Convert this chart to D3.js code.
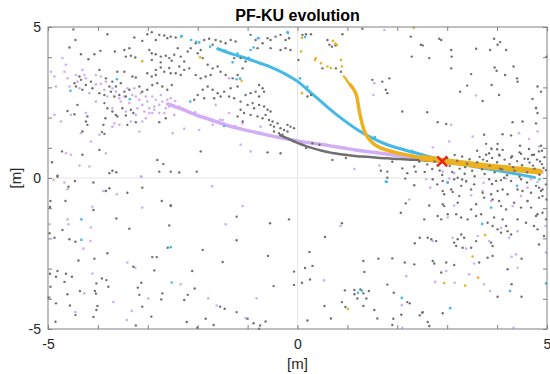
<!DOCTYPE html>
<html>
<head>
<meta charset="utf-8">
<script src="https://cdn.jsdelivr.net/npm/d3@7"></script>
<style>
  body { margin: 0; background: #fff; }
  text { font-family: "Liberation Sans", Arial, Helvetica, sans-serif; }
</style>
</head>
<body>
<div id="chart"></div>
<script>
// DATA (in metres)

var titleText = "PF-KU evolution";
var xLabel = "[m]";
var yLabel = "[m]";
var tickValues = [-5, -4, -3, -2, -1, 0, 1, 2, 3, 4, 5];
var tickLabels = {"-5": "-5", "0": "0", "5": "5"};

var estimate = [2.9, 0.55];

// dense particle trails
var purpleTrail = [[-2.6,2.45],[-2.4,2.33],[-2.2,2.2],[-2.0,2.07],[-1.8,1.96],[-1.6,1.85],[-1.4,1.74],[-1.2,1.65],
  [-1.0,1.57],[-0.8,1.5],[-0.6,1.42],[-0.4,1.35],[-0.2,1.29],[0.0,1.23],[0.3,1.15],[0.6,1.08],[0.9,1.0],
  [1.2,0.92],[1.5,0.85],[1.8,0.79],[2.1,0.73],[2.5,0.65],[3.0,0.55],[3.5,0.46],[4.0,0.37],[4.5,0.28],[4.9,0.21]];
var grayTrail = [[-0.35,1.42],[-0.2,1.31],[-0.1,1.24],[0.0,1.16],[0.1,1.1],[0.2,1.04],[0.3,0.99],[0.4,0.94],
  [0.5,0.9],[0.6,0.86],[0.7,0.83],[0.8,0.8],[0.9,0.78],[1.0,0.76],[1.2,0.72],[1.4,0.7],[1.6,0.67],[1.8,0.65],
  [2.0,0.63],[2.2,0.61],[2.5,0.59],[2.8,0.55]];
var cyanTrail = [[-1.6,4.28],[-1.3,4.1],[-1.0,3.95],[-0.75,3.8],[-0.5,3.65],[-0.25,3.45],[0.0,3.2],[0.3,2.78],
  [0.6,2.35],[0.9,1.95],[1.2,1.6],[1.5,1.32],[1.8,1.1],[2.1,0.95],[2.5,0.77],[3.0,0.56],[3.5,0.39],
  [4.0,0.25],[4.4,0.13],[4.75,0.02]];
var orangeTrail = [[1.05,3.1],[1.12,2.95],[1.18,2.75],[1.21,2.5],[1.24,2.2],[1.28,1.9],[1.32,1.65],[1.38,1.42],
  [1.48,1.2],[1.62,1.03],[1.8,0.92],[2.0,0.83],[2.3,0.73],[2.6,0.64]];
var orangeBand = [[2.5,0.66],[2.8,0.6],[3.1,0.53],[3.4,0.47],[3.8,0.39],[4.2,0.32],[4.5,0.27],[4.85,0.21]];

// scattered particles
var grayPts = [
  [-4.49,4.92],[-3.81,4.76],[-4.45,4.57],[-4.57,4.32],[-3.95,4.21],[-4.34,4.10],[-4.19,3.93],[-4.07,4.10],
  [-3.66,4.19],[-3.47,4.24],[-3.37,4.30],[-3.27,4.65],[-3.11,4.54],[-3.01,4.76],[-2.92,4.83],[-2.84,4.57],
  [-2.77,4.74],[-2.67,4.72],[-2.61,4.63],[-2.54,4.68],[-2.97,4.24],[-2.92,4.13],[-2.84,4.10],[-2.74,4.02],
  [-2.64,4.05],[-2.57,3.97],[-2.52,3.88],[-2.74,3.83],[-2.92,3.91],[-2.84,3.58],[-2.74,3.66],[-2.67,3.52],
  [-2.57,3.64],[-2.54,3.47],[-3.01,3.47],[-2.92,3.36],[-2.84,3.41],[-3.44,4.02],[-3.34,4.05],[-3.25,3.99],
  [-3.31,3.36],[-3.24,3.33],[-3.61,3.52],[-3.47,3.52],[-3.84,3.30],[-3.97,3.58],[-4.37,3.36],[-4.34,3.25],
  [-4.47,3.14],[-4.44,3.03],[-4.14,3.19],[-4.31,2.92],[-4.24,3.08],[-4.11,2.97],[-3.77,3.03],[-3.71,3.19],
  [-3.64,3.03],[-3.54,3.14],[-3.87,2.75],[-3.97,2.81],[-3.74,2.86],[-3.67,2.70],[-3.57,2.75],[-3.47,2.86],
  [-3.37,2.92],[-3.44,2.70],[-3.17,3.03],[-3.11,2.86],[-3.01,2.92],[-2.91,3.08],[-2.81,3.14],[-2.71,3.03],
  [-2.61,2.92],[-2.52,3.08],[-3.87,2.48],[-3.81,2.31],[-3.71,2.20],[-3.51,2.31],[-3.34,2.26],[-4.41,2.42],
  [-4.61,2.22],[-4.47,2.11],[-4.21,2.04],[-4.24,1.87],[-3.85,1.98],[-3.89,1.76],[-3.64,2.09],[-3.61,2.04],
  [-3.44,2.07],[-3.41,1.76],[-3.29,2.15],[-3.24,1.85],[-2.77,1.85],[-2.64,1.98],[-3.92,1.52],[-3.87,1.46],
  [-4.31,1.54],[-4.21,1.76],[-4.72,0.88],[-4.92,0.52],[-4.81,0.08],[-4.31,0.77],[-3.97,0.93],[-3.77,0.16],
  [-3.71,0.24],[-3.63,0.19],[-2.81,0.60],[-2.69,0.46],[-2.54,0.21],[-2.77,0.21],
  [-2.44,4.65],[-2.40,4.30],[-2.47,4.08],[-2.34,4.02],[-2.27,3.86],[-2.20,4.19],[-2.14,4.30],[-2.04,4.46],
  [-2.00,4.13],[-1.94,4.24],[-1.90,3.97],[-1.87,4.57],[-1.77,4.61],[-1.70,4.41],[-1.64,4.57],[-1.54,4.52],
  [-1.44,4.46],[-1.34,4.57],[-1.24,4.52],[-1.80,3.75],[-1.70,3.63],[-1.60,3.69],[-2.17,3.63],[-2.27,3.58],
  [-2.37,3.69],[-2.44,3.47],[-2.34,3.41],[-2.04,3.41],[-1.94,3.30],[-1.84,3.36],[-1.74,3.41],[-1.54,3.52],
  [-1.44,3.41],[-1.30,3.30],[-1.20,3.41],[-1.10,3.63],[-1.04,3.86],[-1.14,3.97],[-1.27,3.97],[-0.94,4.74],
  [-0.84,4.57],[-0.80,4.30],[-0.70,4.46],[-0.60,4.63],[-0.54,4.57],[-0.44,4.68],[-0.34,4.74],[-0.24,4.57],
  [-0.17,4.63],[-0.54,4.30],[-0.34,4.24],[-0.24,4.30],[-0.14,4.24],[-0.77,3.08],[-0.70,2.97],[-0.84,2.86],
  [-0.77,2.70],[-0.67,2.86],[-0.94,2.81],[-1.04,2.75],[-1.20,3.03],[-1.34,2.97],[-1.47,2.86],[-1.60,2.81],
  [-1.70,2.92],[-1.80,3.03],[-1.90,2.92],[-2.00,2.75],[-2.07,2.59],[-1.87,2.64],[-1.67,2.64],[-1.54,2.70],
  [-1.37,2.70],[-1.27,2.64],[-1.14,2.53],[-1.00,2.42],[-0.90,2.48],[-0.87,2.31],[-0.77,2.42],[-0.67,2.37],
  [-0.60,2.26],[-0.54,2.20],[-0.64,2.09],[-0.57,1.92],[-0.50,1.87],[-0.54,1.76],[-0.47,1.70],[-0.40,1.81],
  [-0.34,1.65],[-0.27,1.59],[-0.20,1.54],[-0.37,1.48],[-0.30,1.43],[-0.47,1.54],[-0.20,1.76],[-0.14,1.70],
  [-0.07,1.65],[-0.70,1.98],[-0.80,2.04],[-0.94,2.09],[-1.07,2.15],[-1.14,2.26],[-1.20,2.04],[-1.10,1.87],
  [-1.94,0.88],[-0.60,0.85],[-0.34,0.82],[-2.37,0.18],[-2.02,0.21],[-0.07,1.21],
  [0.10,4.74],[0.17,4.76],[0.27,4.76],[0.60,4.57],[0.64,4.41],[0.69,4.35],[0.76,4.39],[0.90,4.76],
  [1.30,4.94],[2.27,4.68],[2.29,4.02],[2.47,4.41],[0.02,3.91],[0.50,3.63],[0.77,3.63],[0.87,3.52],
  [1.50,3.25],[1.70,3.19],[1.84,3.30],[1.77,2.92],[1.80,2.81],[2.10,2.20],[0.20,2.70],[0.27,2.75],
  [0.17,0.99],[0.30,1.15],[0.44,1.10],[0.70,0.60],[0.97,0.66],[1.67,0.24],[1.80,0.21],[1.90,0.54],
  [2.10,0.32],[2.20,0.16],[2.34,0.38],[2.37,0.21],[2.44,0.54],
  [2.51,4.39],[2.84,4.61],[2.88,4.57],[2.64,3.97],[3.08,4.24],[3.09,4.02],[3.08,3.63],[3.58,4.28],
  [3.86,4.24],[3.94,4.61],[4.01,4.41],[4.06,4.50],[4.18,4.24],[4.99,4.02],[3.95,3.66],[3.99,3.55],
  [4.33,3.69],[4.16,3.41],[4.40,3.30],[4.41,3.19],[3.48,3.44],[3.40,3.06],[3.26,2.86],[3.89,3.08],
  [3.71,2.55],[4.04,2.75],[4.81,3.03],[4.88,2.86],[4.71,2.62],[4.78,2.31],[4.81,2.15],[2.60,2.18],
  [2.81,1.85],[2.98,1.79],[4.31,1.85],[4.51,1.87],[4.78,1.81],[4.11,1.45],[4.28,1.41],[3.74,1.43],
  [4.46,1.07],[4.64,0.96],[4.88,1.07],[3.78,1.13],[4.01,1.13],[3.89,0.96],[3.78,0.77],[3.84,0.82],
  [4.04,0.77],[4.11,0.93],[4.48,0.80],[4.74,0.77],[4.28,0.68],[4.84,0.88],
  [2.6,0.45],[2.7,0.3],[2.75,0.55],[2.85,0.25],[3.0,0.66],[3.05,0.4],[3.1,0.2],[3.2,0.57],[3.25,0.31],
  [3.3,0.71],[3.35,0.14],[3.4,0.47],[3.45,0.62],[3.5,0.24],[3.55,0.06],[3.6,0.52],[3.65,0.7],[3.7,0.29],
  [3.75,0.13],[3.8,0.56],[3.85,0.41],[3.9,0.66],[3.95,0.19],[4.0,0.52],[4.05,0.74],[4.1,0.28],[4.15,0.61],
  [4.2,0.09],[4.25,0.46],[4.3,0.72],[4.35,0.24],[4.4,0.56],[4.45,0.04],[4.5,0.42],[4.55,0.64],[4.6,0.19],
  [4.65,0.51],[4.7,0.76],[4.75,0.31],[4.8,0.61],[4.85,0.11],[4.9,0.46],[4.95,0.69],[4.98,0.26],[2.9,0.1],
  [3.15,0.76],[3.6,0.9],[4.0,0.95],[4.45,0.85],[4.9,0.9],[2.55,0.2],[3.3,-0.05],[3.9,-0.2],[4.6,-0.15],
  [4.32,0.36],[4.72,0.41],[4.86,0.55],[4.06,0.31],[3.72,0.61],[3.36,0.36],[4.93,0.33],[4.62,0.63],
  [2.71,-0.04],[2.80,-0.21],[2.91,-0.10],[3.01,-0.15],[3.14,-0.04],[3.21,0.01],[3.38,-0.10],[3.54,-0.21],
  [3.84,-0.04],[3.98,-0.10],[4.08,-0.07],[4.14,0.01],[4.28,-0.10],[4.48,-0.04],[4.78,-0.26],[4.84,-0.32],
  [4.88,-0.43],[4.91,-0.38],[4.98,-0.21],[2.91,-0.43],[2.94,-0.54],[3.08,-0.38],[3.11,-0.46],[3.28,-0.26],
  [3.48,-0.38],[3.71,-0.49],[3.88,-0.54],[4.01,-0.43],[4.11,-0.38],[4.21,-0.54],[4.41,-0.38],[4.51,-0.43],
  [4.68,-0.49],[4.84,-0.65],[4.91,-0.60],[4.99,-0.71],[2.54,-1.37],[2.64,-0.91],[2.91,-0.87],[2.94,-0.93],
  [3.21,-0.82],[3.24,-0.60],[3.48,-1.04],[3.58,-0.87],[3.74,-0.65],[3.91,-0.71],[4.04,-0.76],[4.08,-0.93],
  [4.18,-1.04],[4.34,-0.82],[4.48,-0.98],[4.61,-0.76],[4.68,-0.98],[4.81,-1.20],[4.78,-1.26],[4.91,-1.15],
  [4.98,-1.37],[2.61,-1.98],[2.81,-1.26],[2.88,-1.37],[3.01,-1.20],[3.18,-1.20],[3.28,-1.31],[3.41,-1.37],
  [3.58,-1.26],[3.68,-1.20],[3.81,-1.48],[3.94,-1.31],[4.11,-1.37],[4.18,-1.59],[4.21,-1.76],[4.28,-1.87],
  [4.41,-1.37],[4.58,-1.48],[4.74,-1.59],[4.81,-1.70],[4.84,-2.20],[4.94,-1.92],[3.91,-1.59],[4.01,-1.70],
  [4.08,-1.81],[2.68,-2.03],[2.78,-2.09],[2.71,-2.75],[2.74,-2.83],[2.98,-2.80],[3.14,-2.88],[3.28,-1.87],
  [3.34,-1.98],[3.14,-2.14],[3.21,-2.03],[3.31,-2.31],[3.18,-2.25],[3.58,-2.09],[3.48,-2.31],[3.88,-2.14],
  [3.91,-2.25],[3.81,-2.64],[3.64,-2.80],[2.88,-3.13],[3.91,-2.58],[4.21,-3.02],[4.49,-2.67],[4.29,-3.52],
  [4.01,-3.93],[4.49,-3.93],[2.51,-4.44],[2.91,-4.48],[2.61,-4.77],[2.64,-4.90],
  [1.80,0.01],[2.16,-0.02],[2.34,-0.24],[2.17,-0.84],[2.07,-1.15],[2.45,-1.98],[2.35,-2.16],[0.89,-1.50],
  [0.55,-1.95],[0.24,-2.45],[0.15,-2.98],[0.30,-2.91],[0.09,-3.47],[0.25,-3.36],[1.32,-2.75],[1.62,-2.67],
  [1.90,-2.66],[2.15,-2.80],[2.34,-2.86],[1.34,-3.11],[1.80,-3.53],[1.93,-3.80],[0.95,-3.72],[1.14,-3.71],
  [1.26,-3.69],[1.32,-3.82],[1.43,-3.74],[1.14,-3.85],[1.20,-3.99],[1.38,-3.99],[0.89,-4.11],[0.96,-4.27],
  [1.32,-4.24],[0.54,-4.24],[1.54,-4.37],[1.60,-4.65],[1.92,-4.66],[2.08,-4.53],[2.20,-4.11],[2.25,-4.15],
  [2.45,-4.55],[2.50,-4.46],[1.90,-4.87],[0.67,-4.65],[0.20,-4.72],
  [-2.54,-0.90],[-1.22,-1.28],[-0.55,-1.50],[-0.17,-1.37],[-1.22,-2.06],[-1.90,-2.38],[-1.50,-2.78],
  [-0.59,-2.58],[-2.11,-3.08],[-0.07,-3.10],[-2.06,-3.66],[-0.48,-3.58],[-0.07,-3.54],[-2.20,-3.87],
  [-2.27,-4.04],[-1.55,-4.26],[-1.46,-4.33],[-1.22,-4.44],[-1.00,-4.66],[-1.84,-4.66],[-2.22,-4.77],
  [-1.68,-4.87],[-0.88,-4.81],[-0.75,-4.88],[-0.64,-4.75],[-0.77,-4.99],[-2.01,-4.96],
  [-4.81,0.04],[-4.46,-0.10],[-4.09,-0.15],[-4.59,-0.29],[-3.84,-0.43],[-3.77,-0.34],[-3.41,-0.49],
  [-3.11,-0.32],[-4.95,-0.76],[-4.65,-0.76],[-4.96,-0.96],[-4.09,-1.06],[-2.72,-0.76],[-2.54,-0.93],
  [-3.63,-1.34],[-3.37,-1.68],[-4.71,-1.72],[-2.57,-1.57],[-4.97,-1.83],[-4.87,-1.98],[-4.57,-2.03],
  [-4.45,-2.11],[-3.81,-2.49],[-4.39,-2.73],[-4.07,-2.67],[-2.91,-2.62],[-2.82,-2.62],[-2.60,-2.31],
  [-3.29,-2.94],[-2.87,-3.06],[-4.81,-3.08],[-4.96,-3.17],[-4.64,-3.17],[-4.52,-3.27],[-4.84,-3.27],
  [-4.67,-3.44],[-3.92,-3.33],[-4.03,-3.49],[-3.83,-3.38],[-3.79,-3.60],[-4.95,-3.60],[-4.36,-3.74],
  [-4.06,-3.74],[-4.04,-3.83],[-3.20,-3.63],[-3.13,-3.47],[-4.61,-3.85],[-3.17,-3.87],[-2.71,-3.82],
  [-2.73,-4.02],[-4.99,-3.96],[-4.84,-4.15],[-4.56,-4.22],[-4.01,-4.24],[-4.03,-4.37],[-3.11,-4.26],
  [-4.45,-4.54],[-4.09,-4.60],[-2.93,-4.59],[-4.85,-4.76],[-3.24,-4.88]
];

var purplePts = [
  [-4.94,3.52],[-4.87,3.36],[-4.71,3.97],[-4.64,3.75],[-4.67,3.52],[-4.61,3.30],[-4.57,3.03],[-4.84,3.03],
  [-4.74,1.87],[-4.87,2.09],[-4.44,3.41],[-4.41,3.19],[-4.27,3.41],[-4.24,3.30],[-4.37,2.97],[-4.17,2.81],
  [-4.04,3.41],[-3.94,3.36],[-3.87,2.92],[-4.04,2.53],[-3.81,2.70],[-3.71,2.97],[-3.64,2.86],[-3.57,2.64],
  [-3.54,2.53],[-3.47,2.70],[-3.41,2.97],[-3.37,2.48],[-3.31,2.75],[-3.27,2.97],[-3.24,2.70],[-3.17,2.59],
  [-3.14,2.81],[-3.11,2.42],[-3.04,2.70],[-3.01,2.53],[-2.97,2.31],[-2.91,2.70],[-2.87,2.37],[-2.84,2.59],
  [-2.77,2.42],[-2.74,2.75],[-2.71,2.53],[-2.64,2.31],[-2.61,2.59],[-2.57,2.37],[-2.54,2.64],[-2.67,2.15],
  [-2.91,2.15],[-2.87,2.26],[-3.07,2.20],[-3.21,2.31],[-3.34,1.87],[-3.57,1.76],[-3.67,1.81],[-4.24,2.15],
  [-4.54,2.09],[-4.34,1.48],[-4.14,1.21],[-3.97,1.43],[-3.71,1.70],[-3.17,1.54],[-4.64,0.82],[-4.54,0.77],
  [-4.37,0.41],[-4.17,0.38],[-3.84,0.82],[-3.11,1.87],[-3.94,3.12],[-4.04,3.10],[-4.31,3.58],[-3.84,3.19],
  [-3.71,2.31],[-3.44,2.20],[-3.24,2.09],[-3.04,1.98],[-2.97,2.15],[-2.77,2.15],[-3.14,0.05],
  [-2.47,2.09],[-2.37,2.37],[-2.24,2.26],[-2.50,1.48],[-2.27,1.63],[-1.97,1.59],[-1.80,1.98],[-1.70,1.76],
  [-1.50,1.92],[-1.37,2.15],[-1.64,2.42],[-1.14,1.10],[-0.94,0.88],[-0.77,4.63],[-0.17,4.63],[-1.37,3.30],
  [-1.10,1.81],[-0.74,1.70],[-2.30,2.30],[-2.05,2.18],[-1.85,2.02],[-1.55,1.93],[-1.25,1.72],[-2.45,2.55],
  [1.74,4.90],[1.54,3.14],[1.52,2.75],[1.14,0.30],[1.64,0.41],
  [3.58,2.73],[3.08,1.76],[3.04,1.21],[3.51,1.37],[4.78,2.33],[4.44,1.48],[4.64,1.29],[4.81,1.54],
  [4.84,1.04],[2.71,1.01],[3.88,0.99],[2.80,0.43],[2.91,0.21],[3.14,0.16],
  [2.58,-0.04],[3.04,-0.02],[3.38,-0.13],[3.73,-0.16],[4.18,-0.02],[4.68,-0.04],[2.66,-0.32],[3.71,-0.43],
  [3.48,-0.57],[3.88,-0.76],[4.31,-0.93],[4.48,-0.60],[4.61,-0.32],[3.14,-0.91],[3.01,-1.31],[2.71,-2.09],
  [3.11,-1.98],[3.38,-2.34],[3.54,-2.83],[3.61,-1.92],[3.84,-2.09],[4.08,-1.65],[4.24,-1.98],[4.41,-1.76],
  [4.38,-2.53],[4.29,-2.61],[4.41,-2.97],[2.98,-3.08],[2.76,-3.44],[3.15,-3.47],[3.44,-3.19],[3.74,-3.52],
  [3.86,-3.74],[4.98,-2.47],[4.97,-1.59],[4.33,-4.96],[4.61,-0.76],[4.81,-0.13],
  [2.24,-0.71],[0.86,-1.59],[0.53,-3.39],[2.18,-3.25],[2.09,-4.21],[2.10,-4.96],
  [-1.71,-0.27],[-1.10,-0.93],[-1.44,-1.53],[-2.34,-3.52],[-1.79,-3.98],[-1.62,-4.22],[-0.82,-3.98],[-1.04,-4.64],
  [-4.89,-0.07],[-4.67,-0.15],[-4.61,-0.37],[-3.89,-0.43],[-3.62,-0.54],[-3.12,0.04],[-4.11,-0.95],[-3.11,-0.98],
  [-4.61,-1.37],[-4.59,-1.53],[-4.97,-1.53],[-4.14,-1.64],[-4.15,-2.09],[-4.29,-2.34],[-3.41,-2.80],[-3.25,-2.97],
  [-4.11,-3.16],[-4.27,-3.82],[-3.69,-4.11],[-4.97,-3.96],[-2.99,-3.99],[-3.32,-4.40],[-4.45,-4.44],[-3.42,-4.70]
];

var cyanPts = [
  [-4.55,2.89],[-3.62,3.27],[-3.36,2.61],[-2.15,2.53],[-1.47,1.72],[-1.22,3.27],[-1.15,3.29],[-2.32,4.70],
  [-0.79,4.63],[-2.33,4.68],[-2.13,4.57],[-2.03,4.51],[-1.97,4.49],[-1.75,4.35],[-1.30,3.83],[-0.94,4.24],
  [-0.88,4.32],[-0.20,4.83],[-0.19,4.80],[0.15,4.67],[-1.45,4.22],[-1.2,4.12],[-0.98,3.98],[-0.6,3.72],
  [0.05,3.3],[0.2,3.02],[1.55,1.36],[2.3,0.9],
  [-4.33,-1.37],[-4.33,-2.05],[-2.54,-2.29],[-2.52,-3.46],[1.79,-0.13],[1.21,-3.80],[1.29,-3.73],
  [2.09,-3.97],[3.06,-4.31],[3.88,-0.98],[3.70,-1.52],[4.26,-3.74],[4.40,-0.26],[3.01,-0.15],[4.98,-3.49],
  [1.77,-0.12],[4.85,-0.05]
];

var orangePts = [
  [0.37,3.97],[0.47,3.80],[0.60,3.69],[0.67,3.64],[0.87,3.91],[0.89,3.69],[0.93,3.36],[0.96,3.30],[1.00,3.20],
  [0.07,4.19],[0.09,4.64],[0.71,4.54],[0.76,4.45],[0.79,4.40],[0.09,2.81],[2.33,4.97],[0.35,3.91],
  [1.02,3.15],[0.98,3.25],[1.08,3.05],
  [3.51,-2.60],[3.76,-1.89],[2.94,-3.48],[3.36,-3.56],[3.62,-3.30],[1.01,-4.34],
  [-3.11,3.87],[-1.95,4.00],[-1.12,3.22]
];

// LAYOUT

var width = 550;
var height = 374;

var x = d3.scaleLinear()
    .domain([-5, 5])
    .range([48, 547]);

var y = d3.scaleLinear()
    .domain([-5, 5])
    .range([329, 27]);

var svg = d3.select("#chart")
    .append("svg")
    .attr("width", width)
    .attr("height", height);

// zero lines
svg.append("line")
    .attr("x1", x(0)).attr("x2", x(0))
    .attr("y1", y(-5)).attr("y2", y(5))
    .style("stroke", "#e6e6e6");
svg.append("line")
    .attr("x1", x(-5)).attr("x2", x(5))
    .attr("y1", y(0)).attr("y2", y(0))
    .style("stroke", "#e6e6e6");

var plot = svg.append("g");

function drawDots(pts, color, r) {
    plot.append("g")
        .selectAll("circle")
        .data(pts)
        .enter()
        .append("circle")
        .attr("cx", function (d) { return x(d[0]); })
        .attr("cy", function (d) { return y(d[1]); })
        .attr("r", r)
        .style("fill", color);
}

var line = d3.line()
    .x(function (d) { return x(d[0]); })
    .y(function (d) { return y(d[1]); })
    .curve(d3.curveMonotoneX);

var lineFree = d3.line()
    .x(function (d) { return x(d[0]); })
    .y(function (d) { return y(d[1]); })
    .curve(d3.curveCatmullRom);

function drawTrail(pts, color, w, gen) {
    plot.append("path")
        .datum(pts)
        .attr("d", gen)
        .style("fill", "none")
        .style("stroke", color)
        .style("stroke-width", w)
        .style("stroke-linecap", "round");
}

var GRAY = "#6f6f6f";
var PURPLE = "#d2adf5";
var CYAN = "#44b9e8";
var ORANGE = "#edb120";

drawDots(purplePts, PURPLE, 1.3);
drawTrail(purpleTrail, PURPLE, 3.5, line);
drawTrail(grayTrail, GRAY, 2.5, line);
drawTrail(cyanTrail, CYAN, 3, lineFree);
drawTrail(orangeTrail, ORANGE, 3.5, lineFree);
drawTrail(orangeBand, ORANGE, 6, line);
drawDots(grayPts, GRAY, 1.2);
drawDots(cyanPts, CYAN, 1.3);
drawDots(orangePts, ORANGE, 1.3);

// estimate marker
var ex = x(estimate[0]), ey = y(estimate[1]);
svg.append("path")
    .attr("d", "M" + (ex - 5) + "," + (ey - 5) + "L" + (ex + 5) + "," + (ey + 5) +
               "M" + (ex - 5) + "," + (ey + 5) + "L" + (ex + 5) + "," + (ey - 5))
    .style("stroke", "#e8211b")
    .style("stroke-width", 2.2)
    .style("fill", "none");

// AXES

function fmt(d) { return tickLabels[String(d)] || ""; }

function styleAxis(g) {
    g.select(".domain").remove();
    g.selectAll(".tick line").style("stroke", "#808080");
    g.selectAll(".tick text")
        .style("font-size", "14px")
        .style("fill", "#262626");
}

svg.append("g")
    .attr("transform", "translate(0," + y(-5) + ")")
    .call(d3.axisBottom(x).tickValues(tickValues).tickSize(-4).tickPadding(10).tickFormat(fmt))
    .call(styleAxis);

svg.append("g")
    .attr("transform", "translate(0," + y(5) + ")")
    .call(d3.axisTop(x).tickValues(tickValues).tickSize(-4).tickFormat(""))
    .call(styleAxis);

svg.append("g")
    .attr("transform", "translate(" + x(-5) + ",0)")
    .call(d3.axisLeft(y).tickValues(tickValues).tickSize(-4).tickPadding(7).tickFormat(fmt))
    .call(styleAxis);

svg.append("g")
    .attr("transform", "translate(" + x(5) + ",0)")
    .call(d3.axisRight(y).tickValues(tickValues).tickSize(-4).tickFormat(""))
    .call(styleAxis);

svg.append("rect")
    .attr("x", x(-5)).attr("y", y(5))
    .attr("width", x(5) - x(-5))
    .attr("height", y(-5) - y(5))
    .style("fill", "none")
    .style("stroke", "#808080")
    .style("stroke-width", 1);

// TEXT

svg.append("text")
    .attr("x", x(0))
    .attr("y", 21)
    .attr("text-anchor", "middle")
    .style("font-size", "16px")
    .style("font-weight", "bold")
    .style("fill", "#000")
    .text(titleText);

svg.append("text")
    .attr("x", x(0))
    .attr("y", 369)
    .attr("text-anchor", "middle")
    .style("font-size", "15px")
    .style("fill", "#262626")
    .text(xLabel);

svg.append("text")
    .attr("transform", "translate(21," + y(0) + ") rotate(-90)")
    .attr("text-anchor", "middle")
    .style("font-size", "15px")
    .style("fill", "#262626")
    .text(yLabel);
</script>
</body>
</html>
